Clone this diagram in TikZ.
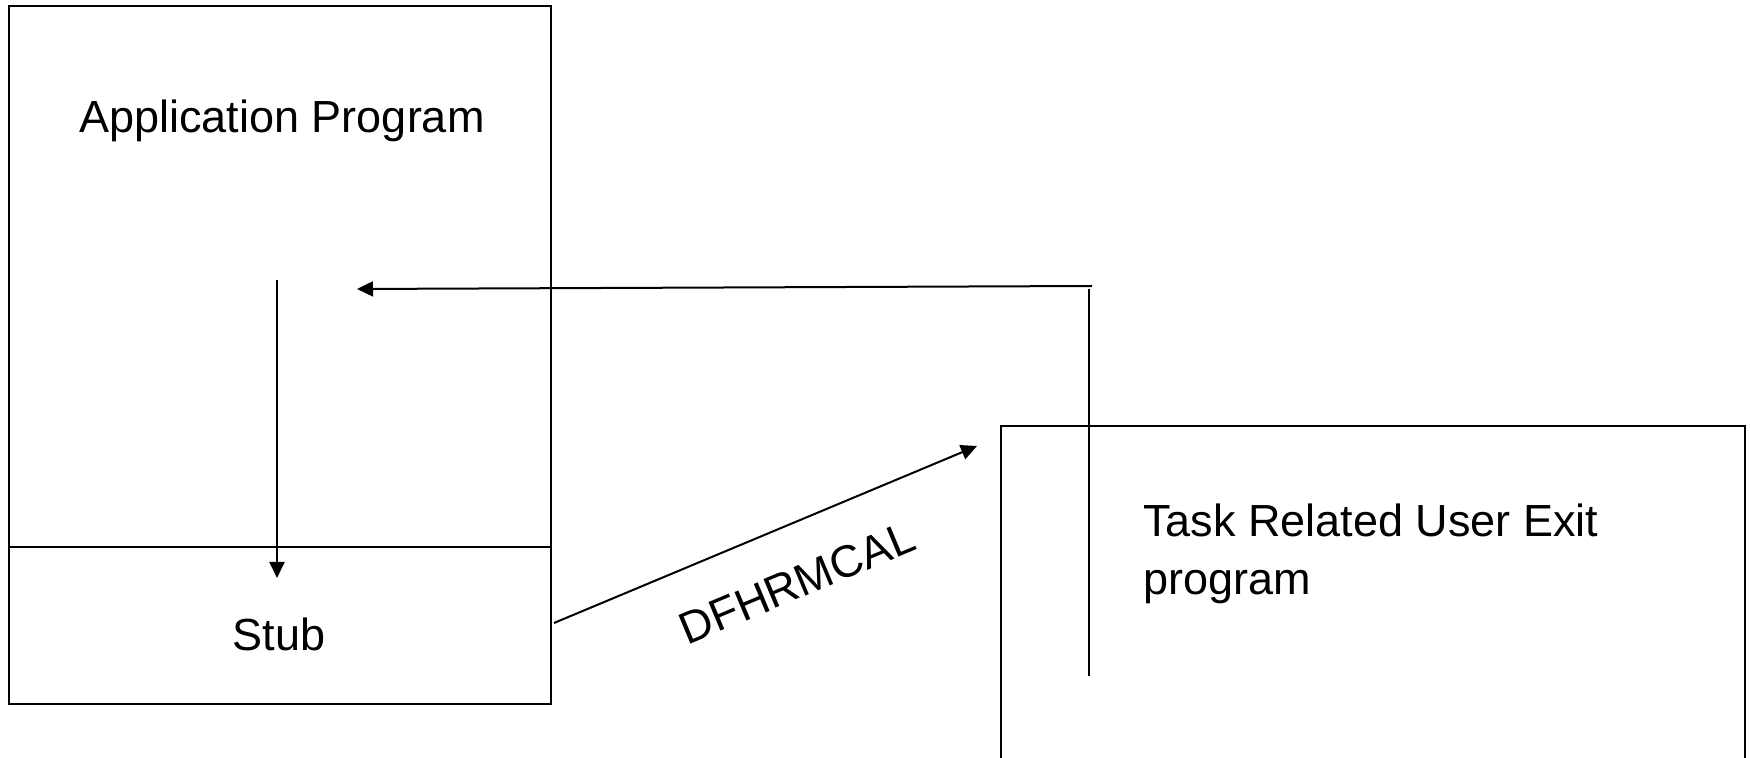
\documentclass[tikz,border=0pt]{standalone}
\usepackage{fontspec}
\setmainfont{Liberation Sans}
\usetikzlibrary{arrows.meta}

\begin{document}
\begin{tikzpicture}[x=0.5pt,y=-0.5pt,
  box/.style={draw,line width=1pt,rectangle,inner sep=0pt},
  lbl/.style={font=\fontsize{22.5}{29}\selectfont,inner sep=0pt},
  flow/.style={line width=1pt,-{Triangle[length=8pt,width=7.5pt]}},
  guide/.style={line width=1pt}]
\useasboundingbox (0,0) rectangle (1750,758);
\clip (0,0) rectangle (1750,758);

% application program with its stub underneath
\node[box,minimum width=271pt,minimum height=270.5pt] (app) at (280,276.5) {};
\node[box,minimum width=271pt,minimum height=78.5pt] (stub) at (280,625.5) {};
\node[lbl,anchor=base] (apptext) at (282,133) {Application Program};
\node[lbl,anchor=base] (stubtext) at (279,650) {Stub};

% task related user exit (runs off the bottom edge)
\node[box,minimum width=372pt,minimum height=197pt] (true) at (1373,623) {};
\node[lbl,anchor=base west,align=left] (truetext) at (1143,595) {Task Related User Exit\\program};

% control flow
\coordinate (down-start) at (277,280);
\coordinate (down-end) at (277,578);
\coordinate (ret-start) at (1092,286);
\coordinate (ret-end) at (357,289);
\coordinate (exit-top) at (1089,289);
\coordinate (exit-bot) at (1089,676);
\coordinate (call-start) at (554,623);
\coordinate (call-end) at (977,446);

\draw[flow] (down-start) -- (down-end);
\draw[flow] (ret-start) -- (ret-end);
\draw[guide] (exit-top) -- (exit-bot);
\draw[flow] (call-start) -- (call-end);
\node[lbl,rotate=22.7] (calltext) at (797,583) {DFHRMCAL};
\end{tikzpicture}
\end{document}
